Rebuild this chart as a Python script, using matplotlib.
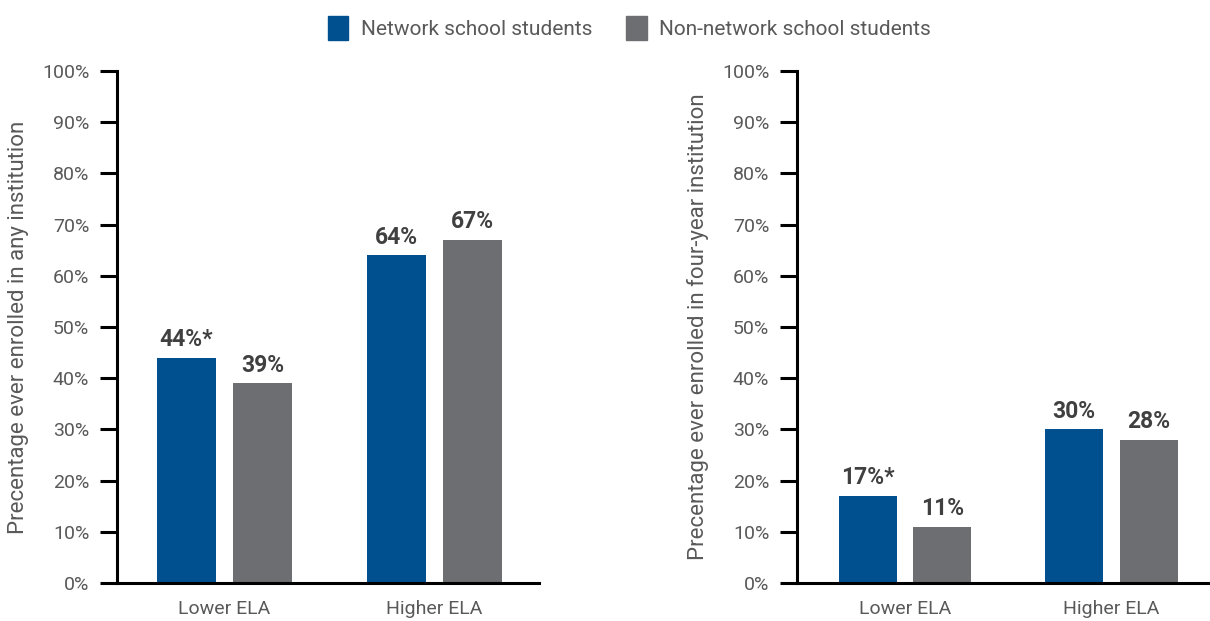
import matplotlib
matplotlib.use("Agg")
import matplotlib.pyplot as plt
from matplotlib import font_manager
from matplotlib.patches import Patch

names = {f.name for f in font_manager.fontManager.ttflist}
fam = "Liberation Sans Narrow" if "Liberation Sans Narrow" in names else "Roboto"
plt.rcParams['font.family'] = [fam, 'DejaVu Sans']

categories = ["Lower ELA", "Higher ELA"]
series_names = ["Network school students", "Non-network school students"]
any_network = [44, 64]
any_non = [39, 67]
any_labels_network = ["44%*", "64%"]
any_labels_non = ["39%", "67%"]
four_network = [17, 30]
four_non = [11, 28]
four_labels_network = ["17%*", "30%"]
four_labels_non = ["11%", "28%"]
ylabels = ["Precentage ever enrolled in any institution",
           "Precentage ever enrolled in four-year institution"]
yticks = list(range(0, 101, 10))

BLUE = "#00508F"
GRAY = "#6D6E71"
TXT = "#595959"
LBL = "#404040"

fig = plt.figure(figsize=(12.1, 6.21), dpi=100)
axes = [fig.add_axes([117/1210, 1-583/621, (539-117)/1210, (583-71)/621]),
        fig.add_axes([797/1210, 1-583/621, (1210-797)/1210, (583-71)/621])]
xlims = [(-0.512, 1.498), (-0.523, 1.477)]
data = [(any_network, any_non, any_labels_network, any_labels_non),
        (four_network, four_non, four_labels_network, four_labels_non)]

w = 0.28
off = 0.181
for ax, (a, b, la, lb), yl, xl in zip(axes, data, ylabels, xlims):
    xs = range(len(categories))
    ba = ax.bar([x - off for x in xs], a, width=w, color=BLUE)
    bb = ax.bar([x + off for x in xs], b, width=w, color=GRAY)
    for bars, labs in ((ba, la), (bb, lb)):
        for r, t in zip(bars, labs):
            ax.text(r.get_x() + r.get_width()/2, r.get_height() + 1.3, t,
                    ha='center', va='bottom', fontsize=16.5, fontweight='bold', color=LBL)
    ax.set_xlim(*xl)
    ax.set_ylim(0, 100)
    ax.set_yticks(yticks)
    ax.set_yticklabels([f"{v}%" for v in yticks])
    ax.set_xticks(list(xs))
    ax.set_xticklabels(categories)
    ax.tick_params(axis='x', length=0, labelsize=14, labelcolor=TXT, pad=12)
    ax.tick_params(axis='y', length=12, width=2.2, labelsize=14, labelcolor=TXT, pad=8, direction='out')
    for s in ('top', 'right'):
        ax.spines[s].set_visible(False)
    for s in ('left', 'bottom'):
        ax.spines[s].set_linewidth(2.2)
        ax.spines[s].set_color('black')
    ax.set_ylabel(yl, fontsize=16, color=TXT, labelpad=9)

handles = [Patch(color=BLUE), Patch(color=GRAY)]
fig.legend(handles, series_names, loc='upper center', bbox_to_anchor=(0.52, 1.005), ncol=2,
           frameon=False, fontsize=15, labelcolor=TXT, handlelength=1.0, handleheight=1.4,
           handletextpad=0.6, columnspacing=1.6)

fig.savefig("out.png", dpi=100)
